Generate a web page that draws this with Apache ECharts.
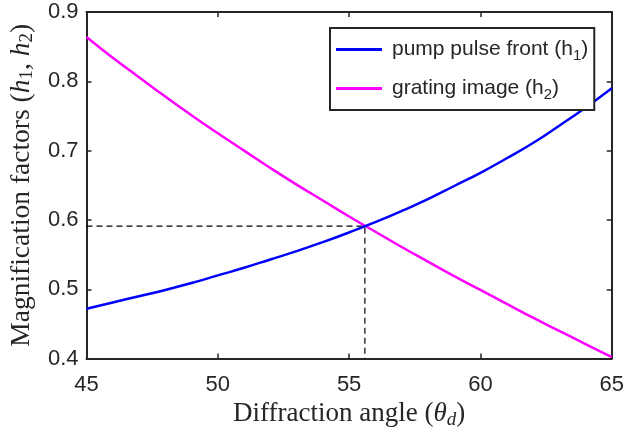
<!DOCTYPE html>
<html>
<head>
<meta charset="utf-8">
<script src="https://cdn.jsdelivr.net/npm/echarts@6/dist/echarts.min.js"></script>
<style>html,body{margin:0;padding:0;background:#fff}#c{width:627px;height:434px}</style>
</head>
<body>
<div id="c"></div>
<script>
const angles = [45,46,47,48,49,50,51,52,53,54,55,56,57,58,59,60,61,62,63,64,65];
const h1 = [0.472,0.481,0.490,0.499,0.509,0.520,0.531,0.543,0.555,0.568,0.582,0.597,0.613,0.630,0.649,0.668,0.689,0.711,0.736,0.762,0.790];
const h2 = [0.864,0.834,0.806,0.778,0.751,0.725,0.700,0.675,0.651,0.628,0.605,0.583,0.561,0.540,0.519,0.499,0.479,0.459,0.440,0.421,0.402];
const crossX = 55.6;
const crossY = 0.591;
const xTicks = [45,50,55,60,65];
const yTicks = [0.4,0.5,0.6,0.7,0.8,0.9];
const seriesNames = ['pump pulse front (h1)','grating image (h2)'];

const axisColor = '#262626';
const sans = 'Liberation Sans, Arial, sans-serif';
const serif = 'Liberation Serif, DejaVu Serif, serif';

const chart = echarts.init(document.getElementById('c'), null, {renderer:'canvas'});
const pair = (xs, ys) => xs.map((x,i)=>[x, ys[i]]);

const option = {
  backgroundColor: '#fff',
  animation: false,
  grid: {left: 86, right: 13, top: 12, bottom: 73, containLabel: false},
  legend: {
    data: seriesNames,
    left: 330, top: 28,
    orient: 'vertical',
    backgroundColor: '#fff',
    borderColor: axisColor, borderWidth: 2, borderRadius: 0,
    padding: [8, 6, 8, 6],
    itemWidth: 46, itemHeight: 3, itemGap: 12,
    icon: 'rect',
    formatter: function(name){
      if (name === seriesNames[0]) return '{g|}{a|pump pulse front (h}{s|1}{a|)}';
      return '{g|}{a|grating image (h}{s|2}{a|)}';
    },
    textStyle: {
      color: axisColor,
      rich: {
        g: {width: 5, lineHeight: 26},
        a: {fontSize: 21, fontFamily: sans, color: axisColor, lineHeight: 26},
        s: {fontSize: 15, fontFamily: sans, color: axisColor, lineHeight: 26, padding: [12,0,0,0]}
      }
    }
  },
  xAxis: [{
    type: 'value', min: 45, max: 65, interval: 5, position: 'bottom',
    axisLine: {show: true, onZero: false, lineStyle: {color: axisColor, width: 2}},
    axisTick: {show: true, inside: true, length: 5, lineStyle: {color: axisColor, width: 1.5}},
    axisLabel: {color: axisColor, fontSize: 22, fontFamily: sans, margin: 15},
    splitLine: {show: false},
    name: '{r|Diffraction angle (}{i|θ}{s|d}{r|)}',
    nameLocation: 'middle', nameGap: 34,
    nameTextStyle: {
      rich: {
        r: {fontSize: 27, fontFamily: serif, color: axisColor},
        i: {fontSize: 27, fontFamily: serif, fontStyle: 'italic', color: axisColor},
        s: {fontSize: 19, fontFamily: serif, fontStyle: 'italic', color: axisColor, padding: [11,0,0,0]}
      }
    }
  },{
    type: 'value', min: 45, max: 65, interval: 5, position: 'top',
    axisLine: {show: true, onZero: false, lineStyle: {color: axisColor, width: 2}},
    axisTick: {show: true, inside: true, length: 5, lineStyle: {color: axisColor, width: 1.5}},
    axisLabel: {show: false}, splitLine: {show: false}
  }],
  yAxis: [{
    type: 'value', min: 0.4, max: 0.9, interval: 0.1, position: 'left',
    axisLine: {show: true, onZero: false, lineStyle: {color: axisColor, width: 2}},
    axisTick: {show: true, inside: true, length: 5, lineStyle: {color: axisColor, width: 1.5}},
    axisLabel: {color: axisColor, fontSize: 22, fontFamily: sans, margin: 8, formatter: v => v.toFixed(1)},
    splitLine: {show: false},
    name: '{r|Magnification factors (}{i|h}{s|1}{r|, }{i|h}{s|2}{r|)}',
    nameLocation: 'middle', nameGap: 48, nameRotate: 90,
    nameTextStyle: {
      rich: {
        r: {fontSize: 27.5, fontFamily: serif, color: axisColor},
        i: {fontSize: 27.5, fontFamily: serif, fontStyle: 'italic', color: axisColor},
        s: {fontSize: 19, fontFamily: serif, color: axisColor, padding: [11,0,0,0]}
      }
    }
  },{
    type: 'value', min: 0.4, max: 0.9, interval: 0.1, position: 'right',
    axisLine: {show: true, onZero: false, lineStyle: {color: axisColor, width: 2}},
    axisTick: {show: true, inside: true, length: 5, lineStyle: {color: axisColor, width: 1.5}},
    axisLabel: {show: false}, splitLine: {show: false}
  }],
  series: [
    {
      name: 'guide', type: 'line', silent: true, symbol: 'none',
      data: [[45, crossY],[crossX, crossY],[crossX, 0.4]],
      lineStyle: {color: '#000', width: 1.2, type: [6,4]}, z: 1
    },
    {
      name: seriesNames[0], type: 'line', symbol: 'none', smooth: true,
      data: pair(angles, h1), color: '#0000ff',
      lineStyle: {color: '#0000ff', width: 2.5}, z: 3
    },
    {
      name: seriesNames[1], type: 'line', symbol: 'none', smooth: true,
      data: pair(angles, h2), color: '#ff00ff',
      lineStyle: {color: '#ff00ff', width: 2.5}, z: 2
    }
  ]
};
chart.setOption(option);
</script>
</body>
</html>
